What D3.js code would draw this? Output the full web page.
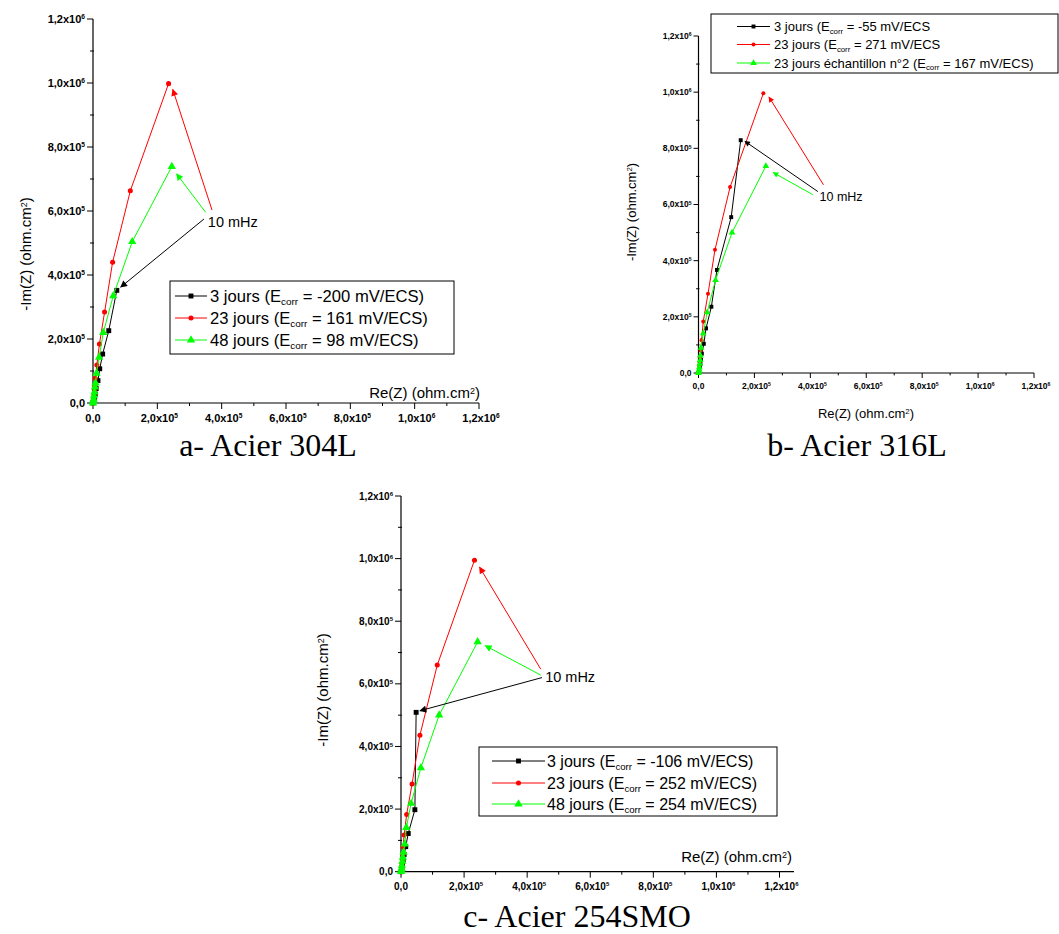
<!DOCTYPE html>
<html><head><meta charset="utf-8">
<script src="https://cdn.jsdelivr.net/npm/d3@7"></script>
<style>body{margin:0;background:#fff;} svg{display:block;font-family:Arial,"Liberation Sans",sans-serif;}</style>
</head><body>
<svg id="c" width="1059" height="934"></svg>
<script>
// ---------- tick labels ----------
const tickVals = [0, 200000, 400000, 600000, 800000, 1000000, 1200000];
const tickMant = ["0,0", "2,0", "4,0", "6,0", "8,0", "1,0", "1,2"];
const tickExp  = ["", "5", "5", "5", "5", "6", "6"];
const minorVals = [100000, 300000, 500000, 700000, 900000, 1100000];

// ---------- series names ----------
const seriesColors = ["#000000", "#ff0000", "#00ff00"];
const seriesSymbols = ["square", "circle", "triangle"];

// ---------- a- Acier 304L : [Re(Z), -Im(Z)] ----------
const a_3j  = [[0,0],[1500,4000],[3000,10000],[5000,18000],[7000,28000],[10000,45000],[15500,70000],[21000,107000],[30000,153000],[49000,226000],[74000,352000]];
const a_23j = [[0,0],[1000,6000],[2000,14000],[3000,25000],[4500,38000],[5500,55000],[7000,77000],[12000,119000],[20000,184000],[36000,284000],[61000,440000],[116000,663000],[235000,998000]];
const a_48j = [[0,0],[1000,5000],[2000,12000],[3000,22000],[4500,34000],[6000,50000],[8000,62000],[11000,93000],[19000,143000],[32000,220000],[63000,335000],[122000,504000],[245000,739000]];
const a_labels = [["3 jours (E", " = -200 mV/ECS)"], ["23 jours (E", " = 161 mV/ECS)"], ["48 jours (E", " = 98 mV/ECS)"]];
// arrows "10 mHz": [x1,y1,x2,y2] in data units (from label to point)
const a_arrows = [[370000,603000,248000,980000],[345000,575000,86000,362000],[350000,596000,260000,716000]];
const a_note = [357000, 550000];

// ---------- b- Acier 316L ----------
const b_3j  = [[0,0],[1500,6000],[3000,13000],[5000,22000],[7000,33000],[9000,47000],[12000,69000],[19000,104000],[27000,159000],[46000,236000],[66000,367000],[117000,555000],[151000,829000]];
const b_23j = [[0,0],[1000,6000],[2000,14000],[3000,25000],[4500,38000],[6000,55000],[8000,80000],[11000,117000],[17000,183000],[34000,282000],[59000,439000],[113000,662000],[232000,996000]];
const b_23j2 = [[0,0],[1000,5000],[2000,11000],[3000,20000],[4500,33000],[6000,46000],[7000,62000],[9000,90000],[17000,141000],[31000,216000],[61000,331000],[120000,500000],[241000,737000]];
const b_labels = [["3 jours (E", " = -55 mV/ECS"], ["23 jours (E", " = 271 mV/ECS"], ["23 jours échantillon n°2 (E", " = 167 mV/ECS)"]];
const b_arrows = [[447000,670000,252000,983000],[427000,646000,166000,825000],[409000,635000,267000,714000]];
const b_note = [433000, 613000];

// ---------- c- Acier 254SMO ----------
const c_3j  = [[0,0],[1500,5000],[3000,12000],[5000,22000],[7000,37000],[10000,55000],[15000,80000],[23000,122000],[44000,198000],[48000,509000]];
const c_23j = [[0,0],[1000,6000],[2000,14000],[3000,25000],[4500,38000],[6000,55000],[6500,80000],[10000,117000],[18000,183000],[35000,280000],[60000,436000],[115000,660000],[233000,995000]];
const c_48j = [[0,0],[1000,5000],[2000,11000],[3000,20000],[4500,33000],[6000,46000],[8000,62000],[12000,88000],[17000,141000],[32000,218000],[63000,332000],[121000,500000],[243000,734000]];
const c_labels = [["3 jours (E", " = -106 mV/ECS)"], ["23 jours (E", " = 252 mV/ECS)"], ["48 jours (E", " = 254 mV/ECS)"]];
const c_arrows = [[443000,647000,249000,973000],[447000,620000,60000,514000],[443000,628000,267000,722000]];
const c_note = [457000, 606000];

// ---------- layout ----------
const panels = [
  { series:[a_3j,a_23j,a_48j], labels:a_labels, arrows:a_arrows, note:a_note, caption:"a- Acier 304L",
    x0:93, x1:479, xEnd:479, y0:403, y1:19, tickFs:11, noteFs:14.5, sym:1,
    yTitle:{x:26, y:254, fs:15}, xTitle:{x:480, y:398, fs:15, anchor:"end"},
    legend:{x:170, y:281, w:284, h:73, rows:[296,318,340], lx:[175,207], tx:210, fs:16.6},
    cap:{x:268, y:456} },
  { series:[b_3j,b_23j,b_23j2], labels:b_labels, arrows:b_arrows, note:b_note, caption:"b- Acier 316L",
    x0:698.5, x1:1034, xEnd:1034, y0:373, y1:36, tickFs:8.5, noteFs:12.5, sym:0.8,
    yTitle:{x:631, y:212, fs:13}, xTitle:{x:866, y:418, fs:13, anchor:"middle"},
    legend:{x:711, y:14, w:347, h:59, rows:[26.5,44.5,63], lx:[737,770], tx:774, fs:13},
    cap:{x:857, y:456} },
  { series:[c_3j,c_23j,c_48j], labels:c_labels, arrows:c_arrows, note:c_note, caption:"c- Acier 254SMO",
    x0:401, x1:779.5, xEnd:794, y0:871.7, y1:496, tickFs:10, noteFs:14.5, sym:1,
    yTitle:{x:323, y:690, fs:15}, xTitle:{x:792, y:862, fs:15, anchor:"end"},
    legend:{x:479, y:747, w:298, h:69, rows:[761,783,804], lx:[492,545], tx:547, fs:16},
    cap:{x:577, y:927} }
];

const svg = d3.select("#c");
const defs = svg.append("defs");

function symFor(i, scale) {
  const t = [d3.symbolSquare, d3.symbolCircle, d3.symbolTriangle][i];
  const s = [24, 20, 30][i] * scale * scale;
  return d3.symbol().type(t).size(s)();
}

function drawPanel(p, pi) {
  const x = d3.scaleLinear().domain([0, 1200000]).range([p.x0, p.x1]);
  const y = d3.scaleLinear().domain([0, 1200000]).range([p.y0, p.y1]);
  const g = svg.append("g");

  // arrow markers
  seriesColors.forEach((c, i) => {
    const s = p.sym;
    defs.append("marker").attr("id", `ah${pi}_${i}`)
      .attr("viewBox", "0 0 10 10").attr("refX", 9).attr("refY", 5)
      .attr("markerWidth", 10 * s).attr("markerHeight", 7 * s)
      .attr("markerUnits", "userSpaceOnUse").attr("orient", "auto")
      .append("path").attr("d", "M0,0L10,5L0,10z").attr("fill", c);
  });

  // axes lines
  g.append("line").attr("x1", p.x0).attr("x2", p.x0).attr("y1", p.y0).attr("y2", p.y1)
    .attr("stroke", "#000").attr("stroke-width", 1.2);
  g.append("line").attr("x1", p.x0).attr("x2", p.xEnd).attr("y1", p.y0).attr("y2", p.y0)
    .attr("stroke", "#000").attr("stroke-width", 1.2);

  // ticks
  const majL = 5 * p.sym + 1, minL = 3 * p.sym;
  tickVals.forEach(v => {
    g.append("line").attr("x1", x(v)).attr("x2", x(v)).attr("y1", p.y0).attr("y2", p.y0 + majL).attr("stroke", "#000");
    g.append("line").attr("y1", y(v)).attr("y2", y(v)).attr("x1", p.x0).attr("x2", p.x0 - majL).attr("stroke", "#000");
  });
  minorVals.forEach(v => {
    g.append("line").attr("x1", x(v)).attr("x2", x(v)).attr("y1", p.y0).attr("y2", p.y0 + minL).attr("stroke", "#000");
    g.append("line").attr("y1", y(v)).attr("y2", y(v)).attr("x1", p.x0 + 1).attr("x2", p.x0 - minL).attr("stroke", "#000");
  });

  function tickText(sel, i) {
    sel.append("tspan").text(tickMant[i] + (tickExp[i] ? "x10" : ""));
    if (tickExp[i]) {
      sel.append("tspan").attr("dy", "-0.55em").attr("font-size", "0.6em").text(tickExp[i]);
    }
  }
  tickVals.forEach((v, i) => {
    const tx = g.append("text").attr("x", x(v) + (tickExp[i] ? 2 : 0)).attr("y", p.y0 + majL + p.tickFs + 2)
      .attr("text-anchor", "middle").attr("font-size", p.tickFs).attr("font-weight", "bold");
    tickText(tx, i);
    const ty = g.append("text").attr("x", p.x0 - majL - 2).attr("y", y(v) + p.tickFs * 0.35)
      .attr("text-anchor", "end").attr("font-size", p.tickFs).attr("font-weight", "bold");
    tickText(ty, i);
  });

  // axis titles
  const yt = g.append("text").attr("transform", `translate(${p.yTitle.x},${p.yTitle.y}) rotate(-90)`)
    .attr("text-anchor", "middle").attr("font-size", p.yTitle.fs).attr("dy", "0.35em");
  yt.append("tspan").text("-Im(Z) (ohm.cm");
  yt.append("tspan").attr("dy", "-0.5em").attr("font-size", "0.6em").text("2");
  yt.append("tspan").attr("dy", "0.3em").text(")");
  const xt = g.append("text").attr("x", p.xTitle.x).attr("y", p.xTitle.y)
    .attr("text-anchor", p.xTitle.anchor).attr("font-size", p.xTitle.fs);
  xt.append("tspan").text("Re(Z) (ohm.cm");
  xt.append("tspan").attr("dy", "-0.5em").attr("font-size", "0.6em").text("2");
  xt.append("tspan").attr("dy", "0.3em").text(")");

  // series
  const line = d3.line().x(d => x(d[0])).y(d => y(d[1]));
  p.series.forEach((data, i) => {
    g.append("path").datum(data).attr("d", line).attr("fill", "none")
      .attr("stroke", seriesColors[i]).attr("stroke-width", 1);
    g.selectAll(null).data(data).enter().append("path")
      .attr("transform", d => `translate(${x(d[0])},${y(d[1])})`)
      .attr("d", symFor(i, p.sym)).attr("fill", seriesColors[i]);
  });

  // arrows and note
  p.arrows.forEach((a, i) => {
    const ci = [1, 0, 2][i];
    g.append("line").attr("x1", x(a[0])).attr("y1", y(a[1])).attr("x2", x(a[2])).attr("y2", y(a[3]))
      .attr("stroke", seriesColors[ci]).attr("stroke-width", 1)
      .attr("marker-end", `url(#ah${pi}_${ci})`);
  });
  g.append("text").attr("x", x(p.note[0])).attr("y", y(p.note[1]))
    .attr("font-size", p.noteFs).text("10 mHz");

  // legend
  const L = p.legend;
  g.append("rect").attr("x", L.x).attr("y", L.y).attr("width", L.w).attr("height", L.h)
    .attr("fill", "#fff").attr("stroke", "#000").attr("stroke-width", 1);
  p.labels.forEach((lab, i) => {
    const ry = L.rows[i];
    g.append("line").attr("x1", L.lx[0]).attr("x2", L.lx[1]).attr("y1", ry).attr("y2", ry)
      .attr("stroke", seriesColors[i]).attr("stroke-width", 1);
    g.append("path").attr("transform", `translate(${(L.lx[0] + L.lx[1]) / 2},${ry})`)
      .attr("d", symFor(i, p.sym)).attr("fill", seriesColors[i]);
    const t = g.append("text").attr("x", L.tx).attr("y", ry + L.fs * 0.36).attr("font-size", L.fs);
    t.append("tspan").text(lab[0]);
    t.append("tspan").attr("dy", "0.35em").attr("font-size", "0.6em").text("corr");
    t.append("tspan").attr("dy", "-0.21em").text(lab[1]);
  });

  // caption
  svg.append("text").attr("x", p.cap.x).attr("y", p.cap.y).attr("text-anchor", "middle")
    .attr("font-family", "'Liberation Serif','Times New Roman',serif").attr("font-size", 32)
    .text(p.caption);
}

panels.forEach(drawPanel);
</script>
</body></html>
